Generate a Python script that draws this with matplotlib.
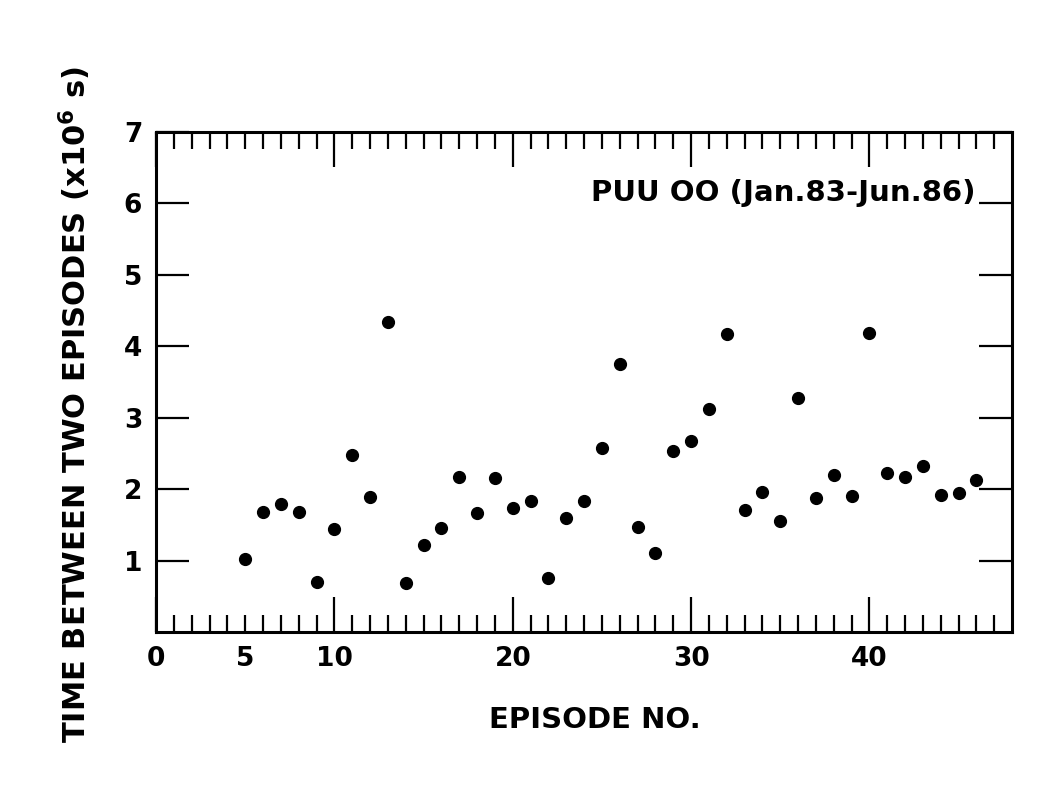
import numpy as np
import matplotlib
matplotlib.use('Agg')
import matplotlib.pyplot as plt

# Episode number and time between two episodes (x10^6 s)
episodes = list(range(5, 47))
interval = [1.02, 1.68, 1.79, 1.68, 0.70, 1.44, 2.48, 1.89, 4.34, 0.68,
            1.22, 1.45, 2.17, 1.67, 2.15, 1.73, 1.84, 0.76, 1.59, 1.83,
            2.58, 3.75, 1.47, 1.11, 2.53, 2.67, 3.12, 4.17, 1.71, 1.96,
            1.56, 3.28, 1.87, 2.20, 1.91, 4.18, 2.23, 2.17, 2.33, 1.92,
            1.95, 2.13]

x_major = [0, 10, 20, 30, 40]
x_minor = list(range(0, 48))
y_major = [1, 2, 3, 4, 5, 6, 7]

title_text = "PUU OO (Jan.83-Jun.86)"
xlabel_text = "EPISODE NO."
ylabel_text = "TIME BETWEEN TWO EPISODES (x10$^{6}$ s)"

plt.rcParams['font.family'] = ['DejaVu Sans']
plt.rcParams['font.weight'] = 'bold'
plt.rcParams['mathtext.default'] = 'bf'
fs = 21

fig = plt.figure(figsize=(10.62, 8.08), dpi=100)
ax = fig.add_axes([0.147, 0.2178, 0.806, 0.6188])

ax.plot(episodes, interval, 'o', color='black', markersize=8.5)

ax.set_xlim(0, 48)
ax.set_ylim(0, 7)

ax.set_xticks(x_major, labels=[str(v) for v in x_major])
# the "5" label sits on a minor tick in the original
ax.set_xticks(x_minor, minor=True,
              labels=['5' if v == 5 else '' for v in x_minor])
ax.set_yticks(y_major, labels=[str(v) for v in y_major])
ax.yaxis.set_minor_locator(matplotlib.ticker.NullLocator())

ax.tick_params(axis='both', which='both', direction='in', top=True, right=True,
               labelsize=19, width=1.6, color='black', pad=10)
ax.tick_params(axis='x', which='major', length=25)
ax.tick_params(axis='x', which='minor', length=12)
ax.tick_params(axis='y', which='major', length=24)

for s in ax.spines.values():
    s.set_linewidth(2.2)

ax.text(0.957, 0.878, title_text, transform=ax.transAxes, ha='right',
        va='center', fontsize=fs)

fig.text(595 / 1062, 1 - 720 / 808, xlabel_text, ha='center', va='center',
         fontsize=fs)
fig.text(75 / 1062, 1 - 405 / 808, ylabel_text, ha='center', va='center',
         rotation=90, fontsize=22)

fig.savefig('out.png', dpi=100)
